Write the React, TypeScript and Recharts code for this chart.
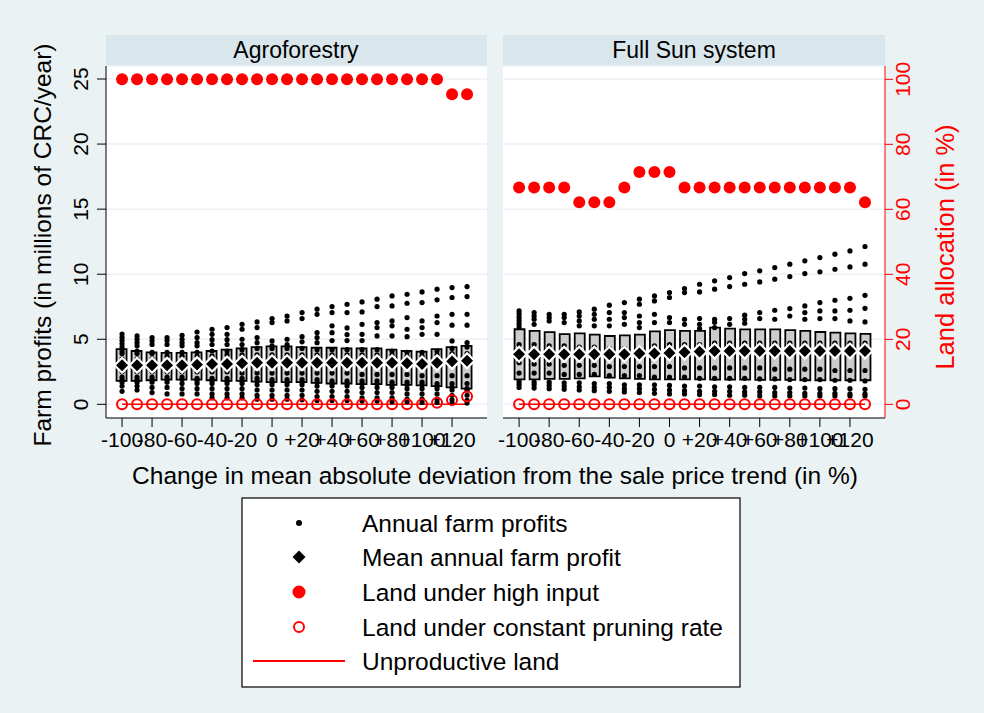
import React from "react";
import { Bar, CartesianGrid, ComposedChart, Line, Scatter, XAxis, YAxis } from "recharts";

const FONT = '"Liberation Sans", Arial, Helvetica, sans-serif';
const BG = "#EAF2F3";
const STRIP = "#D9E6EB";
const RED = "#FF0000";

// change in mean absolute deviation (%)
const categories = [-100, -90, -80, -70, -60, -50, -40, -30, -20, -10, 0, 10, 20, 30, 40, 50, 60, 70, 80, 90, 100, 110, 120, 130];
const xTicks = [-100, -80, -60, -40, -20, 0, 20, 40, 60, 80, 100, 120];
const profitTicks = [0, 5, 10, 15, 20, 25];
const landTicks = [0, 20, 40, 60, 80, 100];

// Agroforestry: annual farm profits (millions CRC/year), one list per category
const agroProfits = [
  [5.4, 5.15, 4.9, 4.65, 4.4, 4.1, 3.9, 3.5, 2.5, 2.1, 1.9, 1.7, 1.4, 1.0],
  [5.26, 5.0, 4.75, 4.5, 4.1, 3.9, 3.5, 2.5, 2.1, 1.9, 1.7, 1.4, 1.1],
  [5.13, 4.87, 4.6, 4.0, 3.9, 3.5, 2.5, 2.1, 1.9, 1.7, 1.3, 0.9],
  [5.13, 4.9, 4.6, 4.0, 3.7, 2.5, 2.1, 1.9, 1.7, 1.3, 0.8],
  [5.31, 5.0, 4.74, 4.5, 4.0, 3.7, 2.5, 2.1, 1.9, 1.6, 1.2, 0.8],
  [5.56, 5.13, 4.74, 4.5, 4.0, 3.7, 2.5, 2.0, 1.8, 1.6, 1.2, 0.8],
  [5.77, 5.38, 4.97, 4.6, 4.1, 3.7, 2.5, 2.0, 1.8, 1.6, 1.2, 0.8, 0.5],
  [5.9, 5.38, 4.97, 4.6, 4.1, 3.8, 2.5, 2.0, 1.8, 1.6, 1.2, 0.8, 0.5],
  [6.15, 5.77, 5.0, 4.6, 4.2, 3.8, 2.4, 2.0, 1.8, 1.6, 1.2, 0.8, 0.5],
  [6.33, 5.9, 5.13, 4.74, 4.3, 3.8, 2.4, 2.0, 1.8, 1.5, 1.1, 0.7, 0.4],
  [6.59, 6.28, 4.87, 4.5, 4.3, 3.8, 2.4, 1.9, 1.7, 1.5, 1.1, 0.7, 0.4],
  [6.79, 6.41, 5.0, 4.6, 4.3, 3.8, 2.4, 1.9, 1.7, 1.5, 1.1, 0.7, 0.4],
  [7.05, 6.59, 5.2, 4.8, 4.3, 3.8, 2.4, 1.9, 1.7, 1.5, 1.1, 0.7, 0.35],
  [7.31, 6.92, 5.51, 5.13, 4.74, 4.2, 3.8, 2.4, 1.9, 1.7, 1.4, 1.0, 0.6, 0.3],
  [7.51, 7.05, 6.03, 5.51, 4.9, 4.2, 3.8, 2.4, 1.8, 1.6, 1.4, 1.0, 0.6, 0.3],
  [7.69, 7.05, 5.87, 5.36, 4.9, 4.2, 3.8, 2.4, 1.8, 1.6, 1.4, 1.0, 0.6, 0.3],
  [7.87, 7.1, 6.15, 5.38, 4.9, 4.2, 3.8, 2.3, 1.8, 1.6, 1.3, 0.9, 0.5, 0.25],
  [8.08, 7.51, 6.28, 5.9, 5.26, 4.2, 3.8, 2.3, 1.8, 1.6, 1.3, 0.9, 0.5, 0.25],
  [8.33, 7.56, 6.41, 6.03, 5.26, 4.1, 3.8, 2.3, 1.7, 1.5, 1.3, 0.9, 0.5, 0.2],
  [8.46, 7.77, 6.67, 5.77, 5.2, 4.0, 3.7, 2.3, 1.7, 1.5, 1.2, 0.8, 0.4, 0.2],
  [8.64, 7.82, 6.41, 5.9, 5.38, 4.0, 3.7, 2.2, 1.7, 1.5, 1.2, 0.8, 0.4, 0.15],
  [8.85, 8.03, 6.79, 6.28, 5.38, 4.1, 3.8, 2.2, 1.6, 1.4, 1.2, 0.8, 0.4, 0.15],
  [8.97, 8.21, 6.92, 6.08, 4.87, 4.3, 3.9, 2.2, 1.6, 1.3, 1.1, 0.7, 0.35, 0.1],
  [9.05, 8.28, 6.92, 6.08, 4.74, 4.4, 3.9, 2.2, 1.6, 1.2, 1.1, 0.7, 0.3, 0.1],
];
const agroQ1 = [1.8, 1.8, 1.85, 1.9, 1.9, 1.9, 1.85, 1.8, 1.8, 1.75, 1.7, 1.7, 1.7, 1.65, 1.6, 1.6, 1.55, 1.55, 1.5, 1.5, 1.45, 1.4, 1.3, 1.2];
const agroQ3 = [4.25, 4.1, 4.0, 3.95, 3.95, 4.0, 4.1, 4.2, 4.3, 4.4, 4.45, 4.45, 4.4, 4.35, 4.35, 4.3, 4.3, 4.3, 4.2, 4.1, 4.05, 4.25, 4.4, 4.5];
const agroMean = [3.0, 3.0, 3.0, 3.0, 3.0, 3.05, 3.1, 3.1, 3.15, 3.2, 3.2, 3.2, 3.2, 3.2, 3.2, 3.2, 3.2, 3.2, 3.2, 3.15, 3.1, 3.2, 3.3, 3.35];
const agroHighInput = [100, 100, 100, 100, 100, 100, 100, 100, 100, 100, 100, 100, 100, 100, 100, 100, 100, 100, 100, 100, 100, 100, 95.4, 95.4];
const agroPruning = [0, 0, 0, 0, 0, 0, 0, 0, 0, 0, 0, 0, 0, 0, 0, 0, 0, 0, 0, 0, 0, 0.5, 1.3, 2.4];
const agroUnproductive = [0, 0, 0, 0, 0, 0, 0, 0, 0, 0, 0, 0, 0, 0, 0, 0, 0, 0, 0, 0, 0, 0, 0, 0];

// Full Sun system
const sunProfits = [
  [7.18, 6.95, 6.7, 6.45, 6.2, 5.95, 4.6, 3.2, 2.4, 1.75, 1.55, 1.3],
  [7.05, 6.79, 6.54, 6.15, 4.6, 3.1, 2.4, 1.7, 1.5, 1.25],
  [6.92, 6.67, 6.41, 4.5, 3.1, 2.4, 1.7, 1.45, 1.2],
  [6.92, 6.67, 6.28, 4.5, 3.0, 2.3, 1.65, 1.4, 1.15],
  [7.1, 6.79, 6.41, 6.03, 4.4, 3.0, 2.3, 1.65, 1.35, 1.1],
  [7.31, 6.92, 6.54, 6.03, 4.4, 3.0, 2.3, 1.6, 1.3, 1.05],
  [7.62, 7.05, 6.54, 6.03, 4.3, 2.9, 2.2, 1.6, 1.3, 1.0],
  [7.82, 7.05, 6.67, 6.15, 4.3, 2.9, 2.2, 1.5, 1.2, 0.95],
  [8.08, 7.69, 6.79, 6.28, 5.9, 4.3, 2.9, 2.2, 1.5, 1.2, 0.9],
  [8.33, 7.95, 6.92, 6.28, 4.5, 2.9, 2.1, 1.5, 1.15, 0.85],
  [8.59, 8.21, 6.67, 6.28, 4.6, 2.9, 2.1, 1.45, 1.1, 0.8],
  [8.9, 8.59, 6.54, 6.15, 4.6, 2.8, 2.1, 1.4, 1.05, 0.8],
  [9.23, 8.64, 6.59, 6.15, 5.82, 4.6, 2.8, 2.0, 1.4, 1.0, 0.75],
  [9.49, 8.85, 6.54, 6.3, 5.9, 4.7, 2.8, 2.0, 1.35, 1.0, 0.75],
  [9.74, 9.05, 6.59, 6.15, 4.7, 2.8, 2.0, 1.35, 1.0, 0.7],
  [10.05, 9.23, 6.85, 6.54, 6.23, 4.7, 2.8, 2.0, 1.3, 0.95, 0.7],
  [10.26, 9.41, 7.05, 6.59, 4.7, 2.8, 1.95, 1.3, 0.95, 0.65],
  [10.51, 9.62, 7.23, 6.54, 4.7, 2.7, 1.95, 1.3, 0.9, 0.65],
  [10.77, 9.82, 7.36, 6.79, 4.7, 2.7, 1.9, 1.25, 0.9, 0.65],
  [11.03, 10.05, 7.56, 7.05, 6.54, 4.7, 2.7, 1.9, 1.25, 0.85, 0.65],
  [11.28, 10.18, 7.82, 7.18, 6.59, 4.7, 2.7, 1.9, 1.2, 0.85, 0.65],
  [11.54, 10.38, 8.0, 7.18, 6.59, 4.7, 2.6, 1.85, 1.2, 0.85, 0.65],
  [11.79, 10.56, 8.15, 7.23, 6.41, 4.7, 2.6, 1.85, 1.2, 0.8, 0.65],
  [12.13, 10.77, 8.38, 7.38, 6.33, 4.7, 2.6, 1.8, 1.15, 0.8, 0.65],
];
const sunQ1 = [1.92, 1.92, 1.95, 1.95, 2.0, 2.15, 2.05, 2.0, 1.95, 1.92, 1.92, 1.92, 1.92, 1.9, 1.9, 1.9, 1.88, 1.88, 1.88, 1.85, 1.85, 1.85, 1.85, 1.85];
const sunQ3 = [5.77, 5.64, 5.55, 5.4, 5.45, 5.36, 5.25, 5.3, 5.36, 5.6, 5.7, 5.64, 5.64, 5.9, 5.82, 5.76, 5.76, 5.76, 5.7, 5.64, 5.56, 5.51, 5.46, 5.41];
const sunMean = [3.85, 3.85, 3.85, 3.85, 3.85, 3.85, 3.85, 3.85, 3.9, 3.9, 3.95, 4.0, 4.05, 4.1, 4.1, 4.1, 4.1, 4.1, 4.1, 4.1, 4.1, 4.1, 4.1, 4.1];
const sunHighInput = [66.7, 66.7, 66.7, 66.7, 62.2, 62.2, 62.2, 66.7, 71.5, 71.5, 71.5, 66.7, 66.7, 66.7, 66.7, 66.7, 66.7, 66.7, 66.7, 66.7, 66.7, 66.7, 66.7, 62.2];
const sunPruning = [0, 0, 0, 0, 0, 0, 0, 0, 0, 0, 0, 0, 0, 0, 0, 0, 0, 0, 0, 0, 0, 0, 0, 0];
const sunUnproductive = [0, 0, 0, 0, 0, 0, 0, 0, 0, 0, 0, 0, 0, 0, 0, 0, 0, 0, 0, 0, 0, 0, 0, 0];

const buildRows = (q1: number[], q3: number[], mean: number[], high: number[], pruning: number[], unprod: number[]) =>
  categories.map((x, i) => ({ x, box: [q1[i], q3[i]], mean: mean[i], high: high[i], pruning: pruning[i], unproductive: unprod[i] }));

const buildDots = (profits: number[][]) => categories.flatMap((x, i) => profits[i].map((y) => ({ x, y })));

const fmtX = (v: number) => (v > 0 ? `+${v}` : `${v}`);

const SmallDot = (p: any) => <circle cx={p.cx} cy={p.cy} r={2.6} fill="#000" />;
const MeanDiamond = (p: any) => (
  <polygon
    points={`${p.cx},${p.cy - 7.5} ${p.cx + 7.5},${p.cy} ${p.cx},${p.cy + 7.5} ${p.cx - 7.5},${p.cy}`}
    fill="#000"
    stroke="#fff"
    strokeWidth={2.2}
  />
);
const HighDot = (p: any) => <circle cx={p.cx} cy={p.cy} r={6} fill={RED} />;
const OpenDot = (p: any) => <circle cx={p.cx} cy={p.cy} r={5} fill="none" stroke={RED} strokeWidth={2} />;

const LeftTick = ({ x, y, payload }: any) => (
  <text transform={`translate(${x - 7},${y}) rotate(-90)`} textAnchor="middle" fontSize={21} fill="#000" fontFamily={FONT}>
    {payload.value}
  </text>
);
const RightTick = ({ x, y, payload }: any) => (
  <text transform={`translate(${x + 15},${y}) rotate(-90)`} textAnchor="middle" fontSize={21} fill={RED} fontFamily={FONT}>
    {payload.value}
  </text>
);

function Panel({ rows, dots, side }: { rows: any[]; dots: any[]; side: "left" | "right" }) {
  const isLeft = side === "left";
  const margin = isLeft
    ? { top: 66, right: 497, bottom: 265, left: 76 }
    : { top: 66, right: 59, bottom: 265, left: 503 };
  return (
    <div style={{ position: "absolute", left: 0, top: 0 }}>
      <ComposedChart width={984} height={713} data={rows} margin={margin}>
        <CartesianGrid yAxisId="left" vertical={false} stroke={BG} strokeWidth={1.5} fill="#fff" />
        <XAxis
          dataKey="x"
          type="number"
          domain={[-110.7, 143.3]}
          allowDataOverflow
          ticks={xTicks}
          interval={0}
          tickFormatter={fmtX}
          height={30}
          tickSize={9}
          tickMargin={5}
          stroke="#000"
          tick={{ fontSize: 21, fill: "#000", fontFamily: FONT }}
        />
        <YAxis
          yAxisId="left"
          type="number"
          domain={[-1.05, 26.0]}
          allowDataOverflow
          ticks={profitTicks}
          interval={0}
          width={30}
          tickSize={9}
          tickMargin={2}
          stroke="#000"
          tick={<LeftTick />}
          hide={!isLeft}
        />
        <YAxis
          yAxisId="right"
          orientation="right"
          type="number"
          domain={[-4.2, 104.1]}
          allowDataOverflow
          ticks={landTicks}
          interval={0}
          width={40}
          tickSize={8}
          tickMargin={2}
          stroke={RED}
          tick={<RightTick />}
          hide={isLeft}
        />
        <Bar yAxisId="left" dataKey="box" barSize={10} fill="#CCCCCC" stroke="#000" strokeWidth={1.8} isAnimationActive={false} />
        <Scatter yAxisId="left" data={dots} dataKey="y" shape={SmallDot} isAnimationActive={false} />
        <Scatter yAxisId="left" dataKey="mean" shape={MeanDiamond} isAnimationActive={false} />
        <Line yAxisId="right" dataKey="unproductive" stroke={RED} strokeWidth={1.5} dot={false} isAnimationActive={false} />
        <Scatter yAxisId="right" dataKey="pruning" shape={OpenDot} isAnimationActive={false} />
        <Scatter yAxisId="right" dataKey="high" shape={HighDot} isAnimationActive={false} />
      </ComposedChart>
    </div>
  );
}

const legendRows = [
  { label: "Annual farm profits", kind: "dot" },
  { label: "Mean annual farm profit", kind: "diamond" },
  { label: "Land under high input", kind: "high" },
  { label: "Land under constant pruning rate", kind: "open" },
  { label: "Unproductive land", kind: "line" },
];

function LegendSymbol({ kind, cy }: { kind: string; cy: number }) {
  const cx = 299;
  if (kind === "dot") return <circle cx={cx} cy={cy} r={3} fill="#000" />;
  if (kind === "diamond")
    return <polygon points={`${cx},${cy - 6.5} ${cx + 6.5},${cy} ${cx},${cy + 6.5} ${cx - 6.5},${cy}`} fill="#000" />;
  if (kind === "high") return <circle cx={cx} cy={cy} r={6.5} fill={RED} />;
  if (kind === "open") return <circle cx={cx} cy={cy} r={5} fill="none" stroke={RED} strokeWidth={2} />;
  return <line x1={253} x2={345} y1={cy} y2={cy} stroke={RED} strokeWidth={2} />;
}

export default function App() {
  const agroRows = buildRows(agroQ1, agroQ3, agroMean, agroHighInput, agroPruning, agroUnproductive);
  const sunRows = buildRows(sunQ1, sunQ3, sunMean, sunHighInput, sunPruning, sunUnproductive);
  const legendY = [523, 557, 592, 627, 661];
  return (
    <div style={{ position: "absolute", left: 0, top: 0, width: 984, height: 713, background: BG, overflow: "hidden", fontFamily: FONT }}>
      <svg width={984} height={713} style={{ position: "absolute", left: 0, top: 0 }}>
        <rect x={106} y={35} width={381} height={31} fill={STRIP} />
        <rect x={503} y={35} width={382} height={31} fill={STRIP} />
        <text x={296} y={58} textAnchor="middle" fontSize={23} fill="#000">Agroforestry</text>
        <text x={694} y={58} textAnchor="middle" fontSize={23} fill="#000">Full Sun system</text>
      </svg>
      <Panel rows={agroRows} dots={buildDots(agroProfits)} side="left" />
      <Panel rows={sunRows} dots={buildDots(sunProfits)} side="right" />
      <svg width={984} height={713} style={{ position: "absolute", left: 0, top: 0, pointerEvents: "none" }}>
        <text transform="translate(51,245) rotate(-90)" textAnchor="middle" fontSize={24.5} fill="#000">
          Farm profits (in millions of CRC/year)
        </text>
        <text transform="translate(954,247) rotate(-90)" textAnchor="middle" fontSize={25.5} fill={RED}>
          Land allocation (in %)
        </text>
        <text x={495} y={484} textAnchor="middle" fontSize={24.5} fill="#000">
          Change in mean absolute deviation from the sale price trend (in %)
        </text>
        <rect x={242} y={498} width={498} height={189} fill="#fff" stroke="#000" strokeWidth={1.2} />
        {legendRows.map((r, i) => (
          <g key={r.label}>
            <LegendSymbol kind={r.kind} cy={legendY[i]} />
            <text x={362} y={legendY[i] + 8.5} fontSize={24.5} fill="#000">{r.label}</text>
          </g>
        ))}
      </svg>
    </div>
  );
}
